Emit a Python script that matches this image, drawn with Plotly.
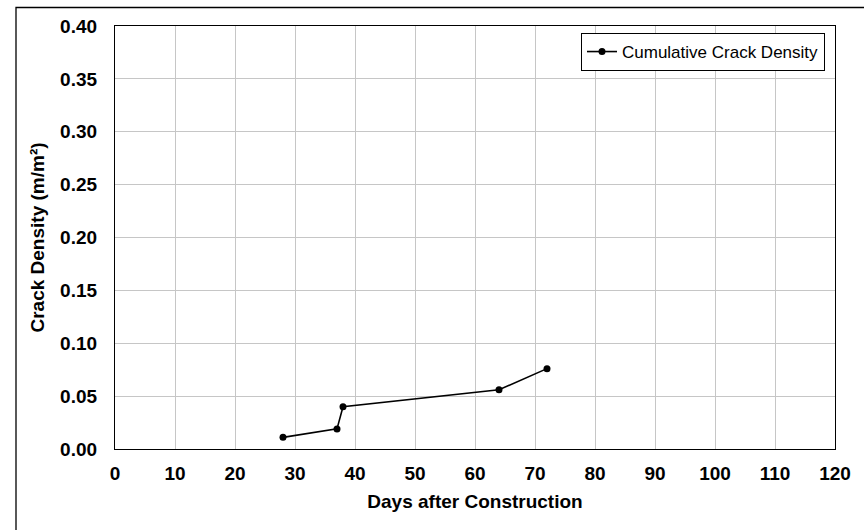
import plotly.graph_objects as go

days = [28, 37, 38, 64, 72]
density = [0.011, 0.019, 0.040, 0.056, 0.076]
x_ticks = [0, 10, 20, 30, 40, 50, 60, 70, 80, 90, 100, 110, 120]
y_ticks = [0.00, 0.05, 0.10, 0.15, 0.20, 0.25, 0.30, 0.35, 0.40]

W, H = 864, 530
L, R, T, B = 115, 835, 26, 449

fig = go.Figure()
fig.add_trace(go.Scatter(
    x=days, y=density, mode="lines+markers",
    name="Cumulative Crack Density",
    line=dict(color="black", width=1.6),
    marker=dict(color="black", size=7),
))

pw, ph = R - L, B - T
fig.add_shape(type="rect", xref="paper", yref="paper",
              x0=(16 - L) / pw, x1=(900 - L) / pw,
              y0=(B - 580) / ph, y1=(B - 7.5) / ph,
              line=dict(color="black", width=1.3), fillcolor="rgba(0,0,0,0)", layer="below")

fig.update_layout(
    width=W, height=H,
    margin=dict(l=L, r=W - R, t=T, b=H - B, pad=0),
    paper_bgcolor="white", plot_bgcolor="white",
    font=dict(family="Liberation Sans, Arial, sans-serif", color="black"),
    showlegend=True,
    legend=dict(x=(825 - L) / pw, xanchor="right", y=(B - 33) / ph, yanchor="top",
                bordercolor="black", borderwidth=1, bgcolor="white",
                font=dict(size=17), tracegroupgap=0, itemwidth=30),
    xaxis=dict(range=[0, 120], tickvals=x_ticks, ticktext=[str(v) for v in x_ticks],
               showgrid=True, gridcolor="#c6c6c6", gridwidth=1,
               showline=True, linecolor="black", linewidth=1.3, mirror=True,
               ticks="outside", ticklen=7, tickcolor="rgba(0,0,0,0)", zeroline=False,
               tickfont=dict(size=19, family="Liberation Sans, Arial", weight="bold"),
               title=dict(text="<b>Days after Construction</b>", font=dict(size=19), standoff=11)),
    yaxis=dict(range=[0, 0.40], tickvals=y_ticks, ticktext=[f"{v:.2f}" for v in y_ticks],
               showgrid=True, gridcolor="#c6c6c6", gridwidth=1,
               showline=True, linecolor="black", linewidth=1.3, mirror=True,
               ticks="outside", ticklen=13, tickcolor="rgba(0,0,0,0)", zeroline=False,
               tickfont=dict(size=19, family="Liberation Sans, Arial", weight="bold"),
               title=dict(text="<b>Crack Density (m/m²)</b>", font=dict(size=19), standoff=10)),
)

fig.write_html("out.html", config={"displayModeBar": False},
               post_script="document.body.style.margin='0px';")
